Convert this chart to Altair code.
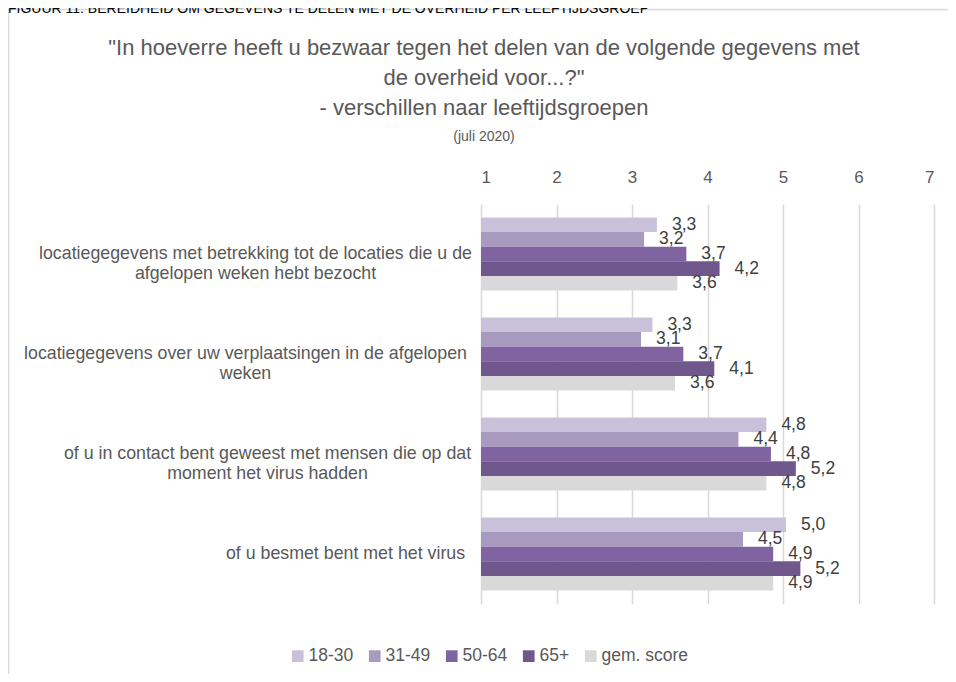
import altair as alt
import pandas as pd

# ---- data ----
categories = [
    "locatiegegevens met betrekking tot de locaties die u de|afgelopen weken hebt bezocht",
    "locatiegegevens over uw verplaatsingen in de afgelopen|weken",
    "of u in contact bent geweest met mensen die op dat|moment het virus hadden",
    "of u besmet bent met het virus",
]
series = ["18-30", "31-49", "50-64", "65+", "gem. score"]
v_18_30 = [3.33, 3.27, 4.78, 5.04]
v_31_49 = [3.16, 3.12, 4.41, 4.47]
v_50_64 = [3.72, 3.68, 4.84, 4.87]
v_65plus = [4.16, 4.09, 5.17, 5.23]
v_gem = [3.60, 3.57, 4.78, 4.87]
x_ticks = [1, 2, 3, 4, 5, 6, 7]
colors = ["#c9c1d9", "#a899bf", "#8064a2", "#70588c", "#d9d9d9"]

title_lines = [
    "\"In hoeverre heeft u bezwaar tegen het delen van de volgende gegevens met",
    "de overheid voor...?\"",
    "- verschillen naar leeftijdsgroepen",
]
subtitle = "(juli 2020)"
figure_caption = "FIGUUR 11: BEREIDHEID OM GEGEVENS TE DELEN MET DE OVERHEID PER LEEFTIJDSGROEP"

values = [v_18_30, v_31_49, v_50_64, v_65plus, v_gem]
rows = []
for s, vals in zip(series, values):
    for c, v in zip(categories, vals):
        rows.append({"categorie": c, "groep": s, "score": v})
df = pd.DataFrame(rows)

FONT = "Liberation Sans, Arial, sans-serif"
GREY = "#595959"

label_pad = {
    "condition": [
        {"test": f"datum.value === '{categories[0]}'", "value": 226},
        {"test": f"datum.value === '{categories[1]}'", "value": 236},
        {"test": f"datum.value === '{categories[2]}'", "value": 214},
    ],
    "value": 136,
}

y_enc = alt.Y(
    "categorie:N",
    sort=categories,
    scale=alt.Scale(paddingInner=0.27, paddingOuter=0.135),
    axis=alt.Axis(
        title=None,
        labelExpr="split(datum.label, '|')",
        labelAlign="center",
        labelBaseline="middle",
        labelFont=FONT,
        labelFontSize=17.8,
        labelColor=GREY,
        labelLineHeight=20,
        labelPadding=label_pad,
        labelLimit=0,
        ticks=False,
        domain=False,
        grid=False,
    ),
)
x_enc = alt.X(
    "score:Q",
    scale=alt.Scale(domain=[1, 7], zero=False, nice=False),
    axis=alt.Axis(
        orient="top",
        values=x_ticks,
        format="d",
        title=None,
        grid=True,
        gridColor="#d9d9d9",
        gridWidth=1.5,
        domain=False,
        ticks=False,
        labelFont=FONT,
        labelFontSize=17,
        labelColor=GREY,
        labelPadding=17.5,
    ),
)
yoff = alt.YOffset("groep:N", sort=series, scale=alt.Scale(domain=series, paddingInner=0, paddingOuter=0))

base = alt.Chart(df)

bars = base.mark_bar().encode(
    x=x_enc,
    x2=alt.datum(1),
    y=y_enc,
    yOffset=yoff,
    color=alt.Color(
        "groep:N",
        sort=series,
        scale=alt.Scale(domain=series, range=colors),
        legend=alt.Legend(
            title=None,
            orient="none",
            legendX=-192,
            legendY=443,
            direction="horizontal",
            columns=5,
            symbolType="square",
            symbolSize=137,
            symbolStrokeWidth=0,
            labelFont=FONT,
            labelFontSize=17.5,
            labelColor=GREY,
            labelOffset=2,
            columnPadding=12,
        ),
    ),
)

labels = base.mark_text(
    align="left", baseline="middle", dx=15, font=FONT, fontSize=17.5, color="#404040"
).transform_calculate(
    lab="replace(format(datum.score, '.1f'), '.', ',')"
).encode(
    x=alt.X("score:Q"),
    y=alt.Y("categorie:N", sort=categories),
    yOffset=alt.YOffset("groep:N", sort=series),
    text="lab:N",
)

one = pd.DataFrame({"k": [0]})
frame_top = alt.Chart(one).mark_rule(color="#d9d9d9", strokeWidth=1.5).encode(
    x=alt.value(-472), x2=alt.value(480), y=alt.value(-194.5)
)
frame_left = alt.Chart(one).mark_rule(color="#d9d9d9", strokeWidth=1.5).encode(
    x=alt.value(-472.5), y=alt.value(-195), y2=alt.value(480)
)
caption = alt.Chart(pd.DataFrame({"t": [figure_caption]})).mark_text(
    align="left", baseline="alphabetic", font=FONT, fontSize=14, color="#000000"
).encode(x=alt.value(-473), y=alt.value(-191), text="t:N")

title_layers = []
for line, yb in zip(title_lines, [-149, -119, -89]):
    title_layers.append(
        alt.Chart(pd.DataFrame({"t": [line]})).mark_text(
            align="center", baseline="alphabetic", font=FONT, fontSize=22, color=GREY
        ).encode(x=alt.value(3), y=alt.value(yb), text="t:N")
    )
sub_mark = alt.Chart(pd.DataFrame({"t": [subtitle]})).mark_text(
    align="center", baseline="alphabetic", font=FONT, fontSize=14, color=GREY
).encode(x=alt.value(3), y=alt.value(-63), text="t:N")

chart = alt.layer(frame_top, frame_left, caption, *title_layers, sub_mark, bars, labels).properties(
    width=453,
    height=400,
    autosize=alt.AutoSizeParams(type="none"),
    padding={"left": 473, "top": 196, "right": 14, "bottom": 70},
).configure_view(strokeWidth=0)

chart.save("out.html", embed_options={"renderer": "svg", "actions": False})
